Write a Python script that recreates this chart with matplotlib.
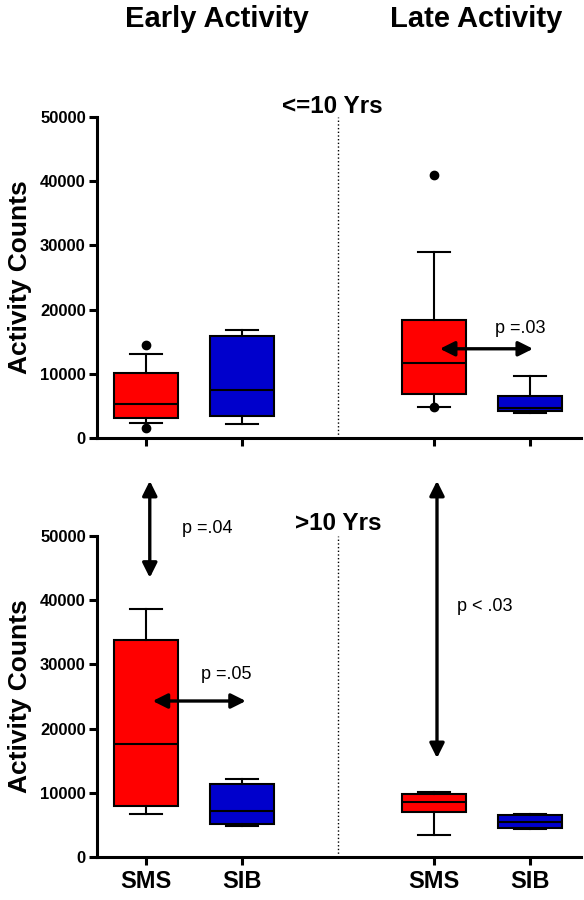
import numpy as np
import matplotlib.pyplot as plt

plt.rcParams['font.family'] = ['Liberation Sans', 'DejaVu Sans']

# group order: SMS early, SIB early, SMS late, SIB late
positions = [1, 2, 4, 5]
groups = ['SMS', 'SIB', 'SMS', 'SIB']
colors = ['#FF0000', '#0000CC', '#FF0000', '#0000CC']

# <=10 Yrs
young_whislo = [2300, 2200, 4800, 3900]
young_q1 = [3100, 3400, 6900, 4200]
young_med = [5300, 7500, 11700, 4700]
young_q3 = [10100, 15900, 18400, 6600]
young_whishi = [13100, 16900, 28900, 9700]
young_fliers = [[14500, 1600], [], [40900, 4800], []]

# >10 Yrs
old_whislo = [6700, 4800, 3400, 4400]
old_q1 = [7900, 5100, 7000, 4500]
old_med = [17600, 7200, 8600, 5400]
old_q3 = [33800, 11400, 9800, 6500]
old_whishi = [38600, 12100, 10100, 6700]
old_fliers = [[], [], [], []]


def make_stats(lo, q1, med, q3, hi, fl):
    return [dict(whislo=a, q1=b, med=c, q3=d, whishi=e, fliers=f)
            for a, b, c, d, e, f in zip(lo, q1, med, q3, hi, fl)]


def draw_panel(ax, stats, show_labels):
    bp = ax.bxp(stats, positions=positions, widths=0.67, patch_artist=True,
                boxprops=dict(linewidth=1.5, edgecolor='black'),
                medianprops=dict(color='black', linewidth=1.5),
                whiskerprops=dict(color='black', linewidth=1.5),
                capprops=dict(color='black', linewidth=1.5),
                capwidths=0.33,
                flierprops=dict(marker='o', markerfacecolor='black',
                                markeredgecolor='black', markersize=6))
    for patch, c in zip(bp['boxes'], colors):
        patch.set_facecolor(c)
    ax.vlines(3, 0, 50000, colors='black', linestyles=':', linewidth=1)
    ax.set_xlim(0.49, 5.53)
    ax.set_ylim(0, 50000)
    ax.set_yticks(np.arange(0, 50001, 10000))
    ax.spines['top'].set_visible(False)
    ax.spines['right'].set_visible(False)
    ax.spines['left'].set_linewidth(2.2)
    ax.spines['bottom'].set_linewidth(2.2)
    ax.tick_params(axis='both', direction='out', length=6, width=2.2)
    ax.tick_params(axis='y', pad=2)
    ax.set_xticks(positions)
    if show_labels:
        ax.set_xticklabels(groups, fontsize=17, fontweight='bold')
    else:
        ax.set_xticklabels([])
    for lab in ax.get_yticklabels():
        lab.set_fontweight('bold')
        lab.set_fontsize(12)
    ax.set_ylabel('Activity Counts', fontsize=19, fontweight='bold', labelpad=6)


def arrow(ax, x0, y0, x1, y1):
    ax.annotate('', xy=(x1, y1), xytext=(x0, y0), annotation_clip=False,
                arrowprops=dict(arrowstyle='<|-|>', color='black', lw=2.4,
                                mutation_scale=22, shrinkA=0, shrinkB=0))


fig = plt.figure(figsize=(5.84, 9), dpi=100)
ax1 = fig.add_axes([0.166, 0.5133, 0.829, 0.3567])
ax2 = fig.add_axes([0.166, 0.0478, 0.829, 0.3566])

draw_panel(ax1, make_stats(young_whislo, young_q1, young_med, young_q3,
                           young_whishi, young_fliers), False)
draw_panel(ax2, make_stats(old_whislo, old_q1, old_med, old_q3,
                           old_whishi, old_fliers), True)

fig.text(0.372, 0.97, 'Early Activity', fontsize=21, fontweight='bold',
         ha='center', va='baseline')
fig.text(0.815, 0.97, 'Late Activity', fontsize=21, fontweight='bold',
         ha='center', va='baseline')

ax1.text(2.94, 51600, '<=10 Yrs', fontsize=17.5, fontweight='bold',
         ha='center', va='center', clip_on=False)
ax2.text(3.0, 52000, '>10 Yrs', fontsize=17.5, fontweight='bold',
         ha='center', va='center', clip_on=False)

# p-value arrows
arrow(ax1, 4.06, 13900, 5.03, 13900)
ax1.text(4.9, 17000, 'p =.03', fontsize=13, ha='center', va='center')

arrow(ax2, 1.07, 24300, 2.04, 24300)
ax2.text(1.84, 28400, 'p =.05', fontsize=13, ha='center', va='center')

arrow(ax2, 1.04, 58600, 1.04, 43500)
ax2.text(1.64, 51100, 'p =.04', fontsize=13, ha='center', va='center')

arrow(ax2, 4.03, 58600, 4.03, 15400)
ax2.text(4.53, 39000, 'p < .03', fontsize=13, ha='center', va='center')

fig.savefig('out.png', dpi=100)
